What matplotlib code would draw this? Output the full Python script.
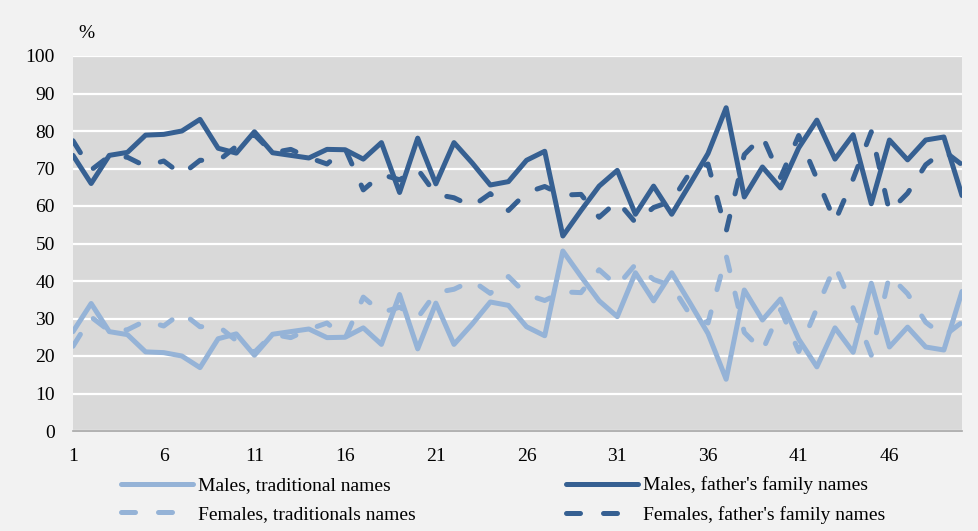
import matplotlib
matplotlib.use("Agg")
import matplotlib.pyplot as plt

plt.rcParams['font.family'] = ['Liberation Serif', 'DejaVu Serif']

x = list(range(1, 51))
x_ticks = [1, 6, 11, 16, 21, 26, 31, 36, 41, 46]
y_ticks = [0, 10, 20, 30, 40, 50, 60, 70, 80, 90, 100]

males_trad = [26.5, 34.0, 26.5, 25.7, 21.1, 20.9, 20.0, 16.9, 24.6, 25.9,
              20.2, 25.8, 26.5, 27.2, 24.9, 25.0, 27.5, 23.1, 36.4, 21.9,
              34.1, 23.1, 28.5, 34.4, 33.5, 27.8, 25.4, 48.0, 41.2, 34.7,
              30.5, 42.2, 34.7, 42.2, 34.2, 26.0, 13.8, 37.6, 29.6, 35.2,
              24.5, 17.1, 27.5, 21.0, 39.4, 22.4, 27.7, 22.4, 21.6, 37.2]
females_trad = [22.6, 30.4, 26.7, 27.0, 29.4, 28.0, 31.6, 27.8, 28.0, 24.1,
                21.0, 25.8, 24.9, 27.1, 28.8, 24.7, 35.7, 31.6, 33.0, 30.2,
                36.9, 37.8, 40.1, 36.7, 41.2, 36.4, 34.8, 37.1, 36.9, 43.0,
                38.7, 44.4, 40.4, 38.7, 31.1, 28.8, 46.8, 26.3, 21.4, 32.4,
                21.2, 32.7, 44.1, 32.8, 20.2, 41.5, 36.6, 29.0, 25.3, 29.0]
males_father = [73.5, 66.0, 73.5, 74.3, 78.9, 79.1, 80.0, 83.1, 75.4, 74.1,
                79.8, 74.2, 73.5, 72.8, 75.1, 75.0, 72.5, 76.9, 63.6, 78.1,
                65.9, 76.9, 71.5, 65.6, 66.5, 72.2, 74.6, 52.0, 58.8, 65.3,
                69.5, 57.8, 65.3, 57.8, 65.8, 74.0, 86.2, 62.4, 70.4, 64.8,
                75.5, 82.9, 72.5, 79.0, 60.6, 77.6, 72.3, 77.6, 78.4, 62.8]
females_father = [77.4, 69.6, 73.3, 73.0, 70.6, 72.0, 68.4, 72.2, 72.0, 75.9,
                  79.0, 74.2, 75.1, 72.9, 71.2, 75.3, 64.3, 68.4, 67.0, 69.8,
                  63.1, 62.2, 59.9, 63.3, 58.8, 63.6, 65.2, 62.9, 63.1, 57.0,
                  61.3, 55.6, 59.6, 61.3, 68.9, 71.2, 53.2, 73.7, 78.6, 67.6,
                  78.8, 67.3, 55.9, 67.2, 79.8, 58.5, 63.4, 71.0, 74.7, 71.0]

light = '#95b3d7'
dark = '#366092'
lw = 3.6
dash = (2.8, 4.6)

fig = plt.figure(figsize=(9.79, 5.31), dpi=100, facecolor='#f2f2f2')
ax = fig.add_axes([73 / 979, 1 - 431 / 531, (962 - 73) / 979, (431 - 56) / 531])
ax.set_facecolor('#d9d9d9')

ax.plot(x, males_trad, color=light, lw=lw, solid_capstyle='round',
        solid_joinstyle='round', label='Males, traditional names')
ax.plot(x, females_trad, color=light, lw=lw, dashes=dash, dash_capstyle='round',
        dash_joinstyle='round', label='Females, traditionals names')
ax.plot(x, males_father, color=dark, lw=lw, solid_capstyle='round',
        solid_joinstyle='round', label="Males, father's family names")
ax.plot(x, females_father, color=dark, lw=lw, dashes=dash, dash_capstyle='round',
        dash_joinstyle='round', label="Females, father's family names")

ax.set_xlim(1, 50)
ax.set_ylim(0, 100)
ax.set_xticks(x_ticks)
ax.set_yticks(y_ticks)
ax.tick_params(axis='both', length=0, labelsize=14)
ax.tick_params(axis='y', pad=13)
ax.tick_params(axis='x', pad=12)
ax.grid(axis='y', color='white', lw=1.6)
ax.set_axisbelow(True)
for side in ['top', 'left', 'right']:
    ax.spines[side].set_visible(False)
ax.spines['bottom'].set_color('#a6a6a6')
ax.spines['bottom'].set_linewidth(1.2)
ax.spines['bottom'].set_zorder(3)

fig.text(86 / 979, 1 - 34 / 531, '%', fontsize=14, ha='center', va='center')

fig.legend(loc='center', bbox_to_anchor=(503 / 979, 1 - 500 / 531), ncol=2,
           frameon=False, fontsize=14, handlelength=3.7, handletextpad=0.26,
           columnspacing=7.7, labelspacing=0.58, borderpad=0)

fig.savefig('out.png', dpi=100, facecolor=fig.get_facecolor())
